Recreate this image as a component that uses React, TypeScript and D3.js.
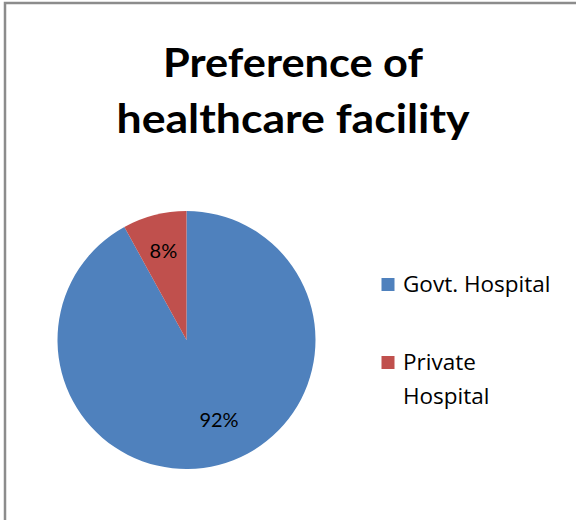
import React from "react";
import * as d3 from "d3";

const categories = ["Govt. Hospital", "Private Hospital"];
const values = [92, 8];
const percentLabels = ["92%", "8%"];
const colors = ["#4F81BD", "#C0504D"];
const titleLines = ["Preference of", "healthcare facility"];
const legendLines = [["Govt. Hospital"], ["Private", "Hospital"]];

export default function App() {
  const W = 576, H = 520;
  const cx = 186.5, cy = 340, r = 129;
  const pie = d3.pie<number>().sort(null).value((d) => d)(values);
  const arc = d3.arc<d3.PieArcDatum<number>>().innerRadius(0).outerRadius(r);
  const labelArc = d3.arc<d3.PieArcDatum<number>>().innerRadius(r * 0.72).outerRadius(r * 0.72);
  const font = "Lato, 'Open Sans', sans-serif";
  const lfont = "'Open Sans', Lato, sans-serif";
  const titleWidths = [260, 353];
  const legendY = [292, 370];
  return (
    <svg width={W} height={H} style={{ position: "absolute", left: 0, top: 0, background: "#fff" }}>
      <rect x={5} y={3} width={W + 10} height={H + 10} fill="#fff" stroke="#8c8c8c" strokeWidth={2.5} />
      {titleLines.map((t, i) => (
        <text key={i} x={293} y={77 + i * 56} textAnchor="middle" fontFamily={font} fontWeight="bold" fontSize={41}
          textLength={titleWidths[i]} lengthAdjust="spacingAndGlyphs" fill="#000">
          {t}
        </text>
      ))}
      <g transform={`translate(${cx},${cy})`}>
        {pie.map((p, i) => (
          <path key={i} d={arc(p) as string} fill={colors[i]} />
        ))}
      </g>
      {pie.map((p, i) => {
        const c = i === 0 ? [219 - cx, 419 - cy] : labelArc.centroid(p);
        return (
          <text key={i} x={cx + c[0]} y={cy + c[1]} textAnchor="middle" dominantBaseline="central" fontFamily={font} fontSize={20} fill="#000">
            {percentLabels[i]}
          </text>
        );
      })}
      {legendLines.map((lines, i) => (
        <g key={i}>
          <rect x={381.5} y={legendY[i] - 14} width={13} height={13} fill={colors[i]} />
          {lines.map((l, j) => (
            <text key={j} x={403} y={legendY[i] + j * 34} fontFamily={lfont} fontSize={22.5} fill="#000">
              {l}
            </text>
          ))}
        </g>
      ))}
    </svg>
  );
}
